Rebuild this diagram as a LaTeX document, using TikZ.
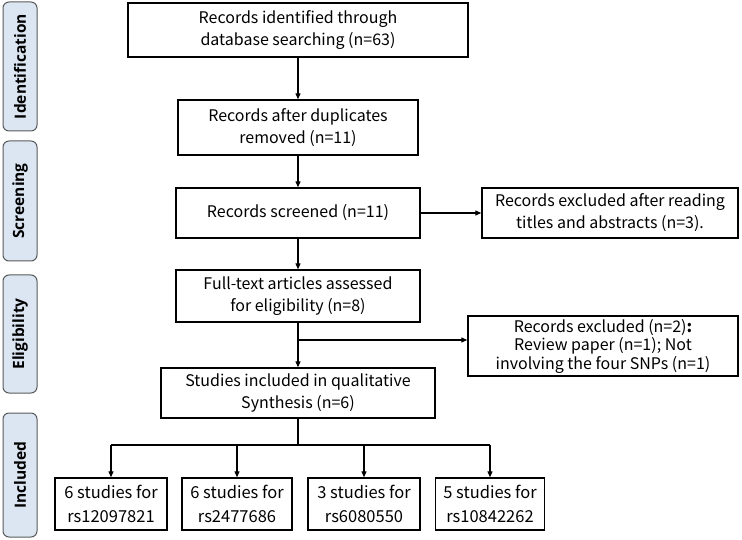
\documentclass[tikz,border=0pt]{standalone}
\usepackage{fontspec}
\setmainfont{Noto Sans CJK SC}
\newfontfamily\tabfont{Open Sans}
\usetikzlibrary{arrows.meta}
\definecolor{tabfill}{HTML}{DCE6F2}
\definecolor{tabdraw}{HTML}{5A5A5A}
\begin{document}
\begin{tikzpicture}[x=1pt,y=-1pt,
  box/.style={draw=black, line width=1.4pt, align=center, inner sep=0pt, font=\fontsize{16}{22}\selectfont},
  sbox/.style={box, minimum height=52pt, font=\fontsize{16.5}{24}\selectfont},
  tab/.style={draw=tabdraw, fill=tabfill, line width=1pt, rounded corners=6pt, inner sep=0pt, rotate=90, minimum height=34pt, font=\tabfont\bfseries\fontsize{15.5}{18}\selectfont},
  arr/.style={-{Triangle[length=6pt,width=5pt]}, line width=1.2pt},
  ln/.style={line width=1.2pt}]
\useasboundingbox (0,0) rectangle (742,540);
% stage tabs
\node[tab, minimum width=129pt] (tid) at (20,66.5) {Identification};
\node[tab, minimum width=120pt] (tsc) at (20,201) {Screening};
\node[tab, minimum width=118pt] (tel) at (20,334) {Eligibility};
\node[tab, minimum width=124pt] (tin) at (20,475) {Included};
% main boxes
\node[box, minimum width=340pt, minimum height=54pt] (b1) at (298,30) {Records identified through\\database searching (n=63)};
\node[box, minimum width=240pt, minimum height=55pt] (b2) at (298,127.5) {Records after duplicates\\removed (n=11)};
\node[box, minimum width=244pt, minimum height=50pt] (b3) at (298,213) {Records screened (n=11)};
\node[box, minimum width=256pt, minimum height=50pt] (e1) at (610,213) {Records excluded after reading\\titles and abstracts (n=3).};
\node[box, minimum width=244pt, minimum height=52pt] (b4) at (298,296) {Full-text articles assessed\\for eligibility (n=8)};
\node[box, minimum width=270pt, minimum height=60pt, font=\fontsize{16}{18.5}\selectfont] (e2) at (603,346) {Records excluded (n=2){\bfseries :}\\Review paper (n=1); Not\\involving the four SNPs (n=1)};
\node[box, minimum width=274pt, minimum height=50pt] (b5) at (298,393) {Studies included in qualitative\\Synthesis (n=6)};
% bottom boxes
\node[sbox, minimum width=112pt] (s1) at (111,504) {6 studies for\\rs12097821};
\node[sbox, minimum width=110pt] (s2) at (237,504) {6 studies for\\rs2477686};
\node[sbox, minimum width=112pt] (s3) at (364,504) {3 studies for\\rs6080550};
\node[sbox, minimum width=109pt] (s4) at (490,504) {5 studies for\\rs10842262};
% connectors
\draw[arr] (b1) -- (b2);
\draw[arr] (b2) -- (b3);
\draw[arr] (b3) -- (e1);
\draw[arr] (b3) -- (b4);
\draw[arr] (b4) -- (b5);
\coordinate (j1) at (298,340);
\draw[arr] (j1) -- (j1 -| e2.west);
\coordinate (j2) at (298,445);
\draw[ln] (b5.south) -- (j2);
\draw[ln] (j2 -| s1) -- (j2 -| s4);
\draw[arr] (j2 -| s1) -- (s1.north);
\draw[arr] (j2 -| s2) -- (s2.north);
\draw[arr] (j2 -| s3) -- (s3.north);
\draw[arr] (j2 -| s4) -- (s4.north);
\end{tikzpicture}
\end{document}
